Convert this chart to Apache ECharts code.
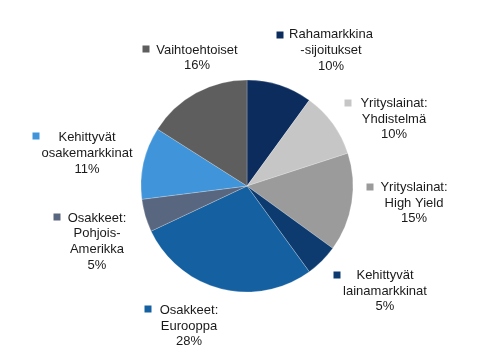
<!DOCTYPE html>
<html>
<head>
<meta charset="utf-8">
<script src="https://cdn.jsdelivr.net/npm/echarts@6/dist/echarts.min.js"></script>
<style>html,body{margin:0;padding:0;background:#fff}#c{width:485px;height:358px}</style>
</head>
<body>
<div id="c"></div>
<script>
const categories = [
  'Rahamarkkina\n-sijoitukset',
  'Yrityslainat:\nYhdistelmä',
  'Yrityslainat:\nHigh Yield',
  'Kehittyvät\nlainamarkkinat',
  'Osakkeet:\nEurooppa',
  'Osakkeet:\nPohjois-\nAmerikka',
  'Kehittyvät\nosakemarkkinat',
  'Vaihtoehtoiset'
];
const values = [10, 10, 15, 5, 28, 5, 11, 16];
const colors = ['#0c2c5e', '#c6c6c6', '#9b9b9b', '#0d3b6f', '#1560a1', '#58677f', '#3f94da', '#5e5e5e'];
// label text-block centres and legend-key centres (layout only)
const labelPos = [
  [331, 50.5], [394, 119], [414, 203], [385, 291],
  [189, 326], [97, 241.5], [87, 153.5], [197, 58]
];
const keyPos = [
  [280, 35], [348, 103], [370, 187], [337, 275],
  [148, 309], [57, 217], [36, 136], [146, 49]
];

const chart = echarts.init(document.getElementById('c'), null, {renderer: 'canvas'});
const textStyle = {fontFamily: 'Liberation Sans, Arial, sans-serif', fontSize: 13, color: '#1a1a1a', lineHeight: 15.7};

const pieBase = {
  type: 'pie',
  center: [247, 186],
  radius: 106,
  startAngle: 90,
  clockwise: true,
  labelLine: {show: false}
};

chart.setOption({
  animation: false,
  series: [
    Object.assign({}, pieBase, {
      data: categories.map((n, i) => ({name: n, value: values[i], itemStyle: {color: colors[i]}})),
      itemStyle: {borderColor: 'rgba(255,255,255,0.45)', borderWidth: 0.5},
      label: Object.assign({
        show: true,
        position: 'outside',
        align: 'center',
        overflow: 'none',
        formatter: p => p.name + '\n' + p.value + '%'
      }, textStyle),
      labelLayout: p => ({
        x: labelPos[p.dataIndex][0],
        y: labelPos[p.dataIndex][1],
        align: 'center',
        verticalAlign: 'middle'
      })
    }),
    Object.assign({}, pieBase, {
      silent: true,
      z: 3,
      data: categories.map((n, i) => ({
        name: n, value: values[i],
        itemStyle: {color: 'rgba(0,0,0,0)'},
        label: {rich: {m: {width: 7, height: 7, backgroundColor: colors[i]}}}
      })),
      label: {
        show: true,
        position: 'outside',
        formatter: '{m|}'
      },
      labelLayout: p => ({
        x: keyPos[p.dataIndex][0],
        y: keyPos[p.dataIndex][1],
        align: 'center',
        verticalAlign: 'middle'
      })
    })
  ]
});
</script>
</body>
</html>
